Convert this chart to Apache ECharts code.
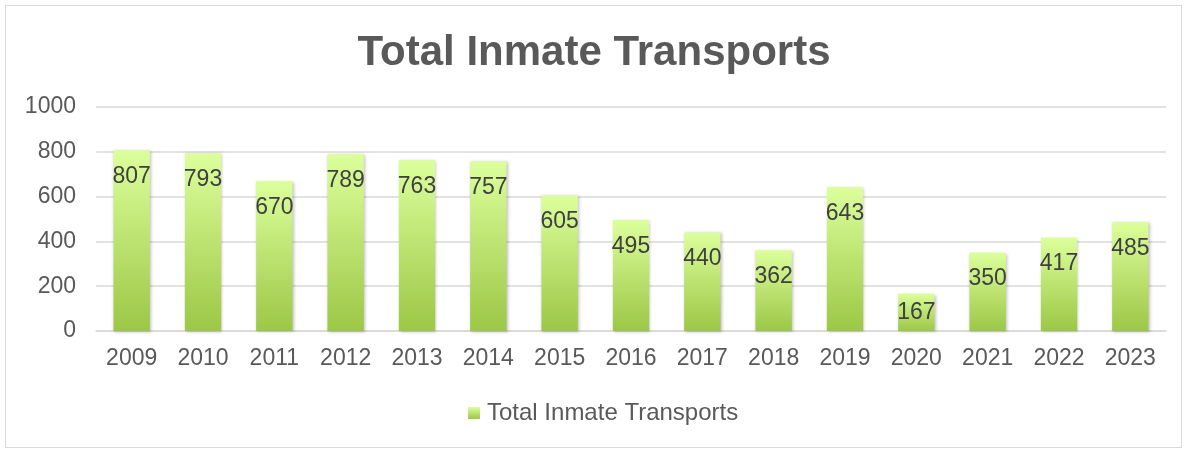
<!DOCTYPE html>
<html>
<head>
<meta charset="utf-8">
<script src="https://cdn.jsdelivr.net/npm/echarts@6/dist/echarts.min.js"></script>
<style>
  html, body { margin: 0; padding: 0; background: #fff; }
  #frame { position: absolute; left: 5px; top: 5px; width: 1175px; height: 441px; border: 1px solid #d9d9d9; }
  #chart { width: 1188px; height: 453px; }
</style>
</head>
<body>
<div id="frame"></div>
<div id="chart"></div>
<script>
const years = ['2009', '2010', '2011', '2012', '2013', '2014', '2015', '2016', '2017', '2018', '2019', '2020', '2021', '2022', '2023']
const transports = [807, 793, 670, 789, 763, 757, 605, 495, 440, 362, 643, 167, 350, 417, 485]
const yTicks = [0, 200, 400, 600, 800, 1000]

const font = 'Liberation Sans, Arial, sans-serif'
const barColor = new echarts.graphic.LinearGradient(0, 0, 0, 1, [
  { offset: 0, color: '#dcff9c' },
  { offset: 1, color: '#9cc746' }
])

const chart = echarts.init(document.getElementById('chart'))
chart.setOption({
  animation: false,
  title: {
    text: 'Total Inmate Transports',
    left: 'center',
    top: 27,
    textStyle: { fontFamily: font, fontSize: 42, fontWeight: 'bold', color: '#595959' }
  },
  legend: {
    top: 396,
    left: 463,
    itemWidth: 12,
    itemHeight: 12,
    itemGap: 4,
    icon: 'rect',
    textStyle: { fontFamily: font, fontSize: 24, color: '#595959', padding: [0, 0, 0, 2] }
  },
  grid: { left: 96, right: 22, top: 107, bottom: 122 },
  xAxis: {
    type: 'category',
    data: years,
    axisLine: { lineStyle: { color: '#d9d9d9', width: 1.5 } },
    axisTick: { show: false },
    axisLabel: { fontFamily: font, fontSize: 23, color: '#595959', margin: 16 }
  },
  yAxis: {
    type: 'value',
    min: yTicks[0],
    max: yTicks[yTicks.length - 1],
    interval: 200,
    axisLine: { show: false },
    axisTick: { show: false },
    splitLine: { lineStyle: { color: '#d9d9d9', width: 1.5 } },
    axisLabel: { fontFamily: font, fontSize: 23, color: '#595959', margin: 20, formatter: v => String(v) }
  },
  series: [
    {
      name: 'Total Inmate Transports',
      type: 'bar',
      barWidth: '51%',
      data: transports.map(v => ({
        value: v,
        label: { position: v < 200 ? 'inside' : 'insideTop' }
      })),
      itemStyle: {
        color: barColor,
        shadowColor: 'rgba(0,0,0,0.25)',
        shadowBlur: 3,
        shadowOffsetX: 1,
        shadowOffsetY: 1
      },
      label: {
        show: true,
        distance: 15,
        fontFamily: font,
        fontSize: 23,
        color: '#404040'
      }
    }
  ]
})
</script>
</body>
</html>
